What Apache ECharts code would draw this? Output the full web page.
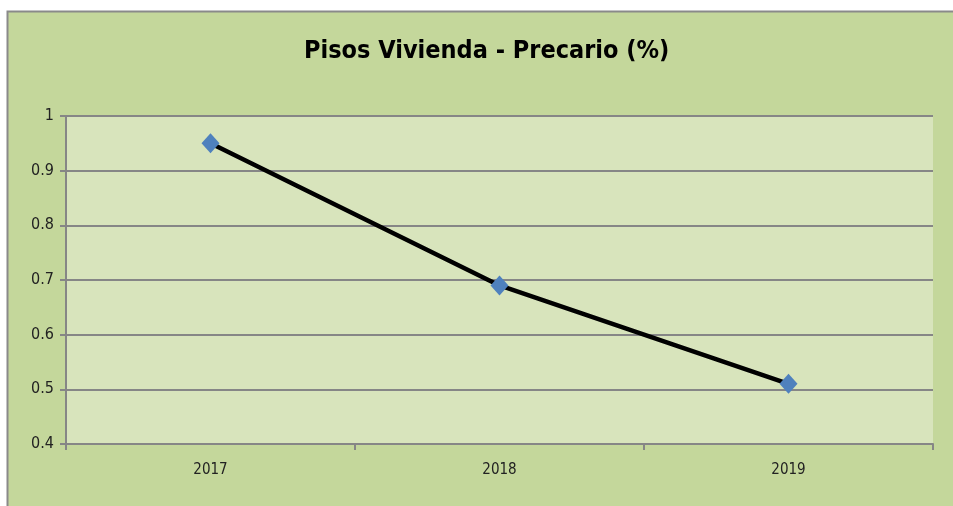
<!DOCTYPE html>
<html>
<head>
<meta charset="utf-8">
<script src="https://cdn.jsdelivr.net/npm/echarts@6/dist/echarts.min.js"></script>
<style>
  html, body { margin: 0; padding: 0; background: #fff; }
  #chart { width: 953px; height: 506px; }
</style>
</head>
<body>
<div id="chart"></div>
<script>
// data
var years = ['2017', '2018', '2019'];
var precario = [0.95, 0.69, 0.51];
var titleText = 'Pisos Vivienda - Precario (%)';

var font = '"DejaVu Sans Condensed", "Liberation Sans Narrow", sans-serif';
var chart = echarts.init(document.getElementById('chart'));

var option = {
  backgroundColor: '#ffffff',
  animation: false,
  graphic: [{
    type: 'rect',
    z: -10,
    shape: { x: 7.5, y: 11.5, width: 960, height: 510 },
    style: { fill: '#c4d79b', stroke: '#8a8a8a', lineWidth: 2 }
  }],
  title: {
    text: titleText,
    left: 299,
    top: 34,
    textStyle: { fontFamily: font, fontSize: 25, fontWeight: 'bold', color: '#000' }
  },
  grid: {
    left: 66, right: 20, top: 116, bottom: 62,
    show: true, backgroundColor: '#d8e4bc', borderWidth: 0
  },
  xAxis: {
    type: 'category',
    data: years,
    boundaryGap: true,
    axisLine: { lineStyle: { color: '#868686', width: 2 } },
    axisTick: { show: true, length: 6, lineStyle: { color: '#868686', width: 2 } },
    axisLabel: { fontFamily: font, fontSize: 15, color: '#222', margin: 19 },
    splitLine: { show: false }
  },
  yAxis: {
    type: 'value',
    min: 0.4, max: 1, interval: 0.1,
    axisLine: { show: true, lineStyle: { color: '#868686', width: 2 } },
    axisTick: { show: true, length: 6, lineStyle: { color: '#868686', width: 2 } },
    axisLabel: {
      fontFamily: font, fontSize: 16, color: '#222', margin: 12,
      formatter: function (v) { return String(Math.round(v * 10) / 10); }
    },
    splitLine: { lineStyle: { color: '#868686', width: 2 } }
  },
  series: [{
    type: 'line',
    data: precario,
    lineStyle: { color: '#000', width: 4.5 },
    symbol: 'diamond',
    symbolSize: [18, 20],
    itemStyle: { color: '#4f81bd' },
    z: 3
  }]
};

chart.setOption(option);
</script>
</body>
</html>
